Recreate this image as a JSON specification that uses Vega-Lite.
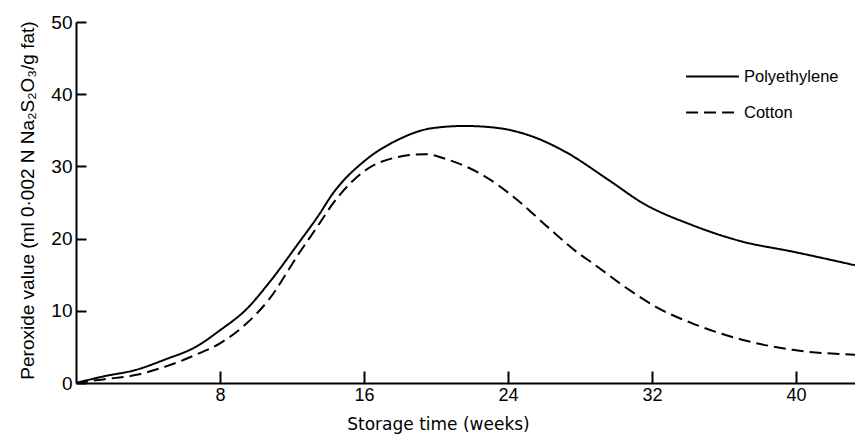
{
  "$schema": "https://vega.github.io/schema/vega-lite/v6.json",
  "width": 779,
  "height": 361,
  "autosize": {"type": "none"},
  "padding": {"left": 76, "top": 22, "right": 0, "bottom": 53},
  "background": "white",
  "config": {
    "view": {"stroke": null},
    "font": "Liberation Sans",
    "axis": {
      "grid": false,
      "domainColor": "black",
      "domainWidth": 2,
      "tickColor": "black",
      "tickWidth": 2,
      "labelColor": "black",
      "titleColor": "black",
      "labelFont": "Liberation Sans",
      "titleFont": "Liberation Sans",
      "titleFontWeight": "normal"
    }
  },
  "data": {
    "values": [
      {"week": 0, "pv": 0, "series": "Polyethylene"},
      {"week": 1.5, "pv": 0.9, "series": "Polyethylene"},
      {"week": 3.3, "pv": 1.8, "series": "Polyethylene"},
      {"week": 5, "pv": 3.3, "series": "Polyethylene"},
      {"week": 6.65, "pv": 5.0, "series": "Polyethylene"},
      {"week": 8, "pv": 7.3, "series": "Polyethylene"},
      {"week": 9.5, "pv": 10.3, "series": "Polyethylene"},
      {"week": 10.7, "pv": 13.8, "series": "Polyethylene"},
      {"week": 12.4, "pv": 19.5, "series": "Polyethylene"},
      {"week": 13.5, "pv": 23.3, "series": "Polyethylene"},
      {"week": 14.2, "pv": 26.0, "series": "Polyethylene"},
      {"week": 16.1, "pv": 30.9, "series": "Polyethylene"},
      {"week": 17.9, "pv": 33.7, "series": "Polyethylene"},
      {"week": 19.8, "pv": 35.3, "series": "Polyethylene"},
      {"week": 21.6, "pv": 35.6, "series": "Polyethylene"},
      {"week": 23.5, "pv": 35.3, "series": "Polyethylene"},
      {"week": 25.4, "pv": 34.1, "series": "Polyethylene"},
      {"week": 27.2, "pv": 32.0, "series": "Polyethylene"},
      {"week": 29.6, "pv": 28.1, "series": "Polyethylene"},
      {"week": 31.5, "pv": 24.9, "series": "Polyethylene"},
      {"week": 34.2, "pv": 21.9, "series": "Polyethylene"},
      {"week": 37, "pv": 19.6, "series": "Polyethylene"},
      {"week": 39.8, "pv": 18.2, "series": "Polyethylene"},
      {"week": 43.3, "pv": 16.3, "series": "Polyethylene"},
      {"week": 0, "pv": 0, "series": "Cotton"},
      {"week": 1.5, "pv": 0.5, "series": "Cotton"},
      {"week": 3.3, "pv": 1.1, "series": "Cotton"},
      {"week": 5, "pv": 2.3, "series": "Cotton"},
      {"week": 6.65, "pv": 3.9, "series": "Cotton"},
      {"week": 8, "pv": 5.5, "series": "Cotton"},
      {"week": 9.5, "pv": 8.3, "series": "Cotton"},
      {"week": 10.7, "pv": 11.5, "series": "Cotton"},
      {"week": 12.4, "pv": 18.0, "series": "Cotton"},
      {"week": 13.5, "pv": 22.0, "series": "Cotton"},
      {"week": 14.2, "pv": 24.6, "series": "Cotton"},
      {"week": 16.1, "pv": 29.5, "series": "Cotton"},
      {"week": 17.9, "pv": 31.3, "series": "Cotton"},
      {"week": 19.4, "pv": 31.7, "series": "Cotton"},
      {"week": 20.7, "pv": 30.9, "series": "Cotton"},
      {"week": 22.6, "pv": 28.8, "series": "Cotton"},
      {"week": 24.4, "pv": 25.6, "series": "Cotton"},
      {"week": 26.3, "pv": 21.4, "series": "Cotton"},
      {"week": 27.9, "pv": 18.0, "series": "Cotton"},
      {"week": 28.7, "pv": 16.6, "series": "Cotton"},
      {"week": 30.5, "pv": 13.3, "series": "Cotton"},
      {"week": 32.4, "pv": 10.3, "series": "Cotton"},
      {"week": 34.2, "pv": 8.3, "series": "Cotton"},
      {"week": 37, "pv": 6.0, "series": "Cotton"},
      {"week": 39.8, "pv": 4.6, "series": "Cotton"},
      {"week": 43.3, "pv": 3.9, "series": "Cotton"}
    ]
  },
  "mark": {"type": "line", "color": "black", "strokeWidth": 2, "interpolate": "monotone", "clip": true},
  "encoding": {
    "x": {
      "field": "week",
      "type": "quantitative",
      "scale": {"domain": [0, 43.28], "nice": false, "zero": true},
      "axis": {
        "values": [8, 16, 24, 32, 40],
        "tickSize": -12,
        "labelPadding": 15,
        "labelFontSize": 18,
        "title": "Storage time (weeks)",
        "titleFont": "DejaVu Sans",
        "titleFontSize": 17,
        "titleX": 362,
        "titleY": 46,
        "titleBaseline": "alphabetic"
      }
    },
    "y": {
      "field": "pv",
      "type": "quantitative",
      "scale": {"domain": [0, 50], "nice": false},
      "axis": {
        "values": [0, 10, 20, 30, 40, 50],
        "tickSize": -10,
        "labelPadding": 14,
        "labelFontSize": 19,
        "title": "Peroxide value (ml 0·002 N Na₂S₂O₃/g fat)",
        "titleFontSize": 19,
        "titleX": -49,
        "titleY": 178,
        "titleAlign": "center",
        "titleBaseline": "middle"
      }
    },
    "strokeDash": {
      "field": "series",
      "type": "nominal",
      "scale": {"domain": ["Polyethylene", "Cotton"], "range": [[1, 0], [12, 6]]},
      "legend": {
        "title": null,
        "orient": "none",
        "legendX": 609,
        "legendY": 27,
        "padding": 0,
        "symbolType": "stroke",
        "symbolSize": 2800,
        "symbolStrokeWidth": 2,
        "symbolStrokeColor": "black",
        "labelFontSize": 16.5,
        "labelColor": "black",
        "labelOffset": 4,
        "rowPadding": -19
      }
    }
  }
}
